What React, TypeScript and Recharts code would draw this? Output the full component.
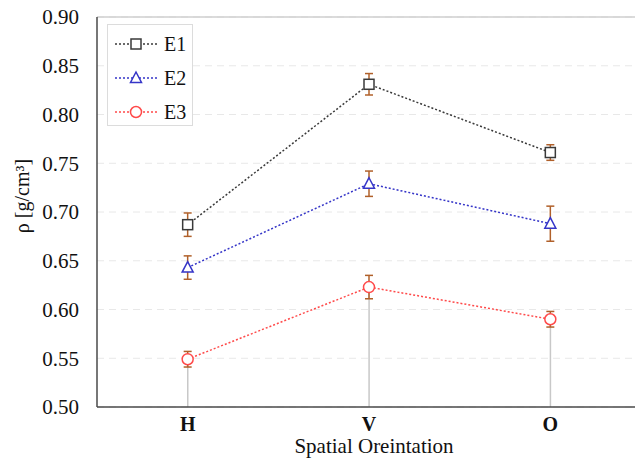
import {
  ComposedChart,
  Line,
  Bar,
  ErrorBar,
  XAxis,
  YAxis,
  CartesianGrid,
  ReferenceLine,
} from "recharts";

const categories = ["H", "V", "O"];
const e1 = [0.687, 0.831, 0.761];
const e1Err = [0.012, 0.011, 0.008];
const e2 = [0.643, 0.729, 0.688];
const e2Err = [0.012, 0.013, 0.018];
const e3 = [0.549, 0.623, 0.59];
const e3Err = [0.008, 0.012, 0.008];
const yTicks = [0.5, 0.55, 0.6, 0.65, 0.7, 0.75, 0.8, 0.85, 0.9];

const data = categories.map((c, i) => ({
  cat: c,
  e1: e1[i],
  e1Err: e1Err[i],
  e2: e2[i],
  e2Err: e2Err[i],
  e3: e3[i],
  e3Err: e3Err[i],
}));

const SERIF = "Times New Roman, Liberation Serif, Tinos, DejaVu Serif, serif";
const ERR = "#b0602a";

const series = [
  { key: "e1", name: "E1", color: "#3a3a3a", shape: "square" },
  { key: "e2", name: "E2", color: "#3535c8", shape: "triangle" },
  { key: "e3", name: "E3", color: "#ff4a4a", shape: "circle" },
];

function Marker({ cx, cy, shape, color }: any) {
  if (cx == null || cy == null) return null;
  if (shape === "square")
    return <rect x={cx - 5} y={cy - 5} width={10} height={10} fill="#fff" stroke={color} strokeWidth={1.5} />;
  if (shape === "triangle")
    return (
      <polygon
        points={`${cx},${cy - 6} ${cx + 5.5},${cy + 4.5} ${cx - 5.5},${cy + 4.5}`}
        fill="#fff"
        stroke={color}
        strokeWidth={1.5}
      />
    );
  return <circle cx={cx} cy={cy} r={5.5} fill="#fff" stroke={color} strokeWidth={1.5} />;
}

// legend is laid over the plot, outside of recharts' layout
function LegendBox() {
  return (
    <div
      style={{
        position: "absolute",
        left: 107,
        top: 24,
        width: 86,
        height: 102,
        border: "1px solid #dcdcdc",
        background: "#fff",
        boxSizing: "border-box",
        paddingTop: 2,
      }}
    >
      {series.map((s) => (
        <div key={s.key} style={{ display: "flex", alignItems: "center", height: 34, paddingLeft: 6 }}>
          <svg width={44} height={16}>
            <line x1={1} y1={8} x2={43} y2={8} stroke={s.color} strokeWidth={1.3} strokeDasharray="2 2" />
            <Marker cx={22} cy={8} shape={s.shape} color={s.color} />
          </svg>
          <span style={{ fontFamily: SERIF, fontSize: 20, marginLeft: 6, color: "#111" }}>{s.name}</span>
        </div>
      ))}
    </div>
  );
}

export default function App() {
  return (
    <div style={{ position: "absolute", left: 0, top: 0, width: 635, height: 466, background: "#fff" }}>
      <ComposedChart width={635} height={466} data={data} margin={{ top: 17, right: -6, left: 0, bottom: 0 }}>
        <CartesianGrid vertical={false} stroke="#e8e8e8" strokeDasharray="7 5" />
        <ReferenceLine y={0.9} stroke="#cfcfcf" strokeWidth={1.5} />
        <XAxis
          dataKey="cat"
          height={59}
          stroke="#4a4a4a"
          strokeWidth={1.5}
          tickLine={false}
          tickSize={0}
          tickMargin={10}
          tick={{ fontFamily: SERIF, fontSize: 20, fontWeight: "bold", fill: "#111" }}
          label={{
            content: () => (
              <text x={374} y={453} textAnchor="middle" fontFamily={SERIF} fontSize={21} fill="#111">
                Spatial Oreintation
              </text>
            ),
          }}
        />
        <YAxis
          width={97}
          domain={[0.5, 0.9]}
          ticks={yTicks}
          stroke="#4a4a4a"
          strokeWidth={1.5}
          tickLine={false}
          tickSize={0}
          tickMargin={18}
          tickFormatter={(v: number) => v.toFixed(2)}
          tick={{ fontFamily: SERIF, fontSize: 21, fill: "#111" }}
          label={{
            content: () => (
              <text
                transform="translate(29,196) rotate(-90)"
                textAnchor="middle"
                fontFamily={SERIF}
                fontSize={20}
                fill="#111"
              >
                ρ [g/cm³]
              </text>
            ),
          }}
        />
        <Bar dataKey="e3" barSize={1.5} fill="#c8c8c8" isAnimationActive={false} legendType="none" />
        {series.map((s) => (
          <Line
            key={s.key}
            dataKey={s.key}
            name={s.name}
            stroke={s.color}
            strokeWidth={1.5}
            strokeDasharray="2 2"
            isAnimationActive={false}
            dot={(p: any) => <Marker key={`${s.key}-${p.index}`} cx={p.cx} cy={p.cy} shape={s.shape} color={s.color} />}
            activeDot={false}
          >
            <ErrorBar dataKey={`${s.key}Err`} width={4} stroke={ERR} strokeWidth={1.5} direction="y" />
          </Line>
        ))}
      </ComposedChart>
      <LegendBox />
    </div>
  );
}
